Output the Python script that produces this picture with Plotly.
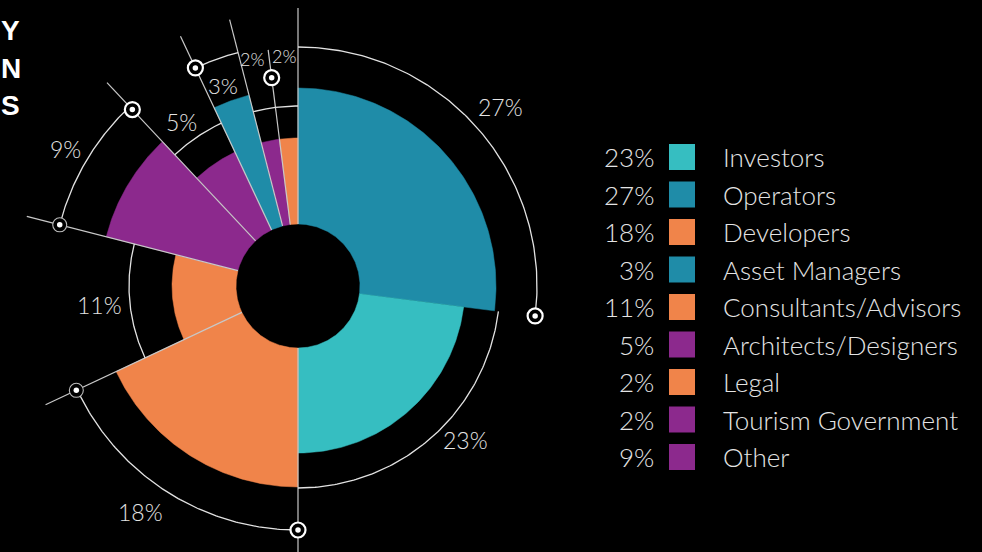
import numpy as np
import plotly.graph_objects as go

# ---------------- data ----------------
categories = ["Investors", "Operators", "Developers", "Asset Managers",
              "Consultants/Advisors", "Architects/Designers", "Legal",
              "Tourism Government", "Other"]
shares = [23, 27, 18, 3, 11, 5, 2, 2, 9]
# clockwise order of the slices, starting at 12 o'clock
chart_order = ["Operators", "Investors", "Developers", "Consultants/Advisors",
               "Other", "Architects/Designers", "Asset Managers",
               "Tourism Government", "Legal"]

# ---------------- styling (design, not data) ----------------
TEAL, BLUE, ORANGE, PURPLE = "#36BEC1", "#1F8CA8", "#F0844A", "#8C298D"
colors = {"Investors": TEAL, "Operators": BLUE, "Developers": ORANGE,
          "Asset Managers": BLUE, "Consultants/Advisors": ORANGE,
          "Architects/Designers": PURPLE, "Legal": ORANGE,
          "Tourism Government": PURPLE, "Other": PURPLE}
HOLE = 62
outer_r = {"Operators": 198, "Investors": 167, "Developers": 201,
           "Consultants/Advisors": 126, "Other": 198,
           "Architects/Designers": 148, "Asset Managers": 197,
           "Tourism Government": 148, "Legal": 148}
arc_r = {"Operators": 239, "Investors": 202, "Developers": 244,
         "Consultants/Advisors": 169, "Other": 246,
         "Architects/Designers": 180, "Asset Managers": 241,
         "Tourism Government": 180, "Legal": 180}
# radial line length at the END boundary of each slice (None = no line)
line_len = {"Operators": None, "Investors": 300, "Developers": 279,
            "Consultants/Advisors": 280, "Other": 279,
            "Architects/Designers": 276, "Asset Managers": 275,
            "Tourism Government": 238, "Legal": 278}
# marker radius at END boundary of each slice, and style (bold / thin)
marker_at = {"Operators": (239, True), "Investors": (244, True),
             "Developers": (245, False), "Consultants/Advisors": (246, False),
             "Other": (242, True), "Architects/Designers": (241, True),
             "Tourism Government": (210, True)}
# label radius, angle offset from mid-angle, font size
label_pos = {"Operators": (270, 0, 23), "Investors": (227, -6, 23),
             "Developers": (276, 2.5, 23), "Consultants/Advisors": (199, 0, 23),
             "Other": (270, 0, 23), "Architects/Designers": (201, -1.3, 23),
             "Asset Managers": (214, -0.8, 22), "Tourism Government": (232, -0.7, 18),
             "Legal": (230, 0, 18)}

FONT = "Lato"
WEIGHT = 300
LABEL_COL = "#E4E4E4"
LINE_COL = "#C8C8C8"


def pol(r, th):
    t = np.radians(th)
    return r * np.sin(t), r * np.cos(t)


share_of = dict(zip(categories, shares))
fig = go.Figure()

# angles from the data
angles = {}
start = 0.0
for c in chart_order:
    end = start + share_of[c] * 3.6
    angles[c] = (start, end)
    start = end

# wedges
for c in chart_order:
    a0, a1 = angles[c]
    th = np.linspace(a0, a1, 120)
    xo, yo = pol(outer_r[c], th)
    xi, yi = pol(HOLE, th[::-1])
    fig.add_trace(go.Scatter(
        x=np.concatenate([xo, xi, xo[:1]]), y=np.concatenate([yo, yi, yo[:1]]),
        mode="lines", fill="toself", fillcolor=colors[c],
        line=dict(color=colors[c], width=0.5), hoverinfo="skip", showlegend=False))

# radial lines
for c in chart_order:
    L = line_len[c]
    if L is None:
        continue
    a1 = angles[c][1]
    x0, y0 = pol(HOLE, a1)
    x1, y1 = pol(L, a1)
    fig.add_trace(go.Scatter(x=[x0, x1], y=[y0, y1], mode="lines",
                             line=dict(color=LINE_COL, width=1.2),
                             hoverinfo="skip", showlegend=False))

# annotation arcs
for c in chart_order:
    a0, a1 = angles[c]
    th = np.linspace(a0, a1, 120)
    x, y = pol(arc_r[c], th)
    fig.add_trace(go.Scatter(x=x, y=y, mode="lines",
                             line=dict(color="#E2E2E2", width=1.3),
                             hoverinfo="skip", showlegend=False))

# ring markers
for c, (r, bold) in marker_at.items():
    a1 = angles[c][1]
    x, y = pol(r, a1)
    fig.add_trace(go.Scatter(
        x=[x], y=[y], mode="markers",
        marker=dict(symbol="circle", size=15 if bold else 14, color="black",
                    line=dict(color="white" if bold else "#BBBBBB",
                              width=2.2 if bold else 1.1)),
        hoverinfo="skip", showlegend=False))
    fig.add_trace(go.Scatter(
        x=[x], y=[y], mode="markers",
        marker=dict(symbol="circle", size=5.5, color="white", line=dict(width=0)),
        hoverinfo="skip", showlegend=False))

# percentage labels around the chart
for c in chart_order:
    a0, a1 = angles[c]
    r, off, fs = label_pos[c]
    x, y = pol(r, (a0 + a1) / 2 + off)
    fig.add_annotation(x=x, y=y, text=f"{share_of[c]}%", showarrow=False,
                       xanchor="center", yanchor="middle",
                       font=dict(family=FONT, size=fs, color=LABEL_COL, weight=WEIGHT))

# custom legend
LEG_TOP, LEG_STEP = 129, 37.5
leg_y = [LEG_TOP - i * LEG_STEP for i in range(len(categories))]
fig.add_trace(go.Scatter(
    x=[384] * len(categories), y=leg_y, mode="markers",
    marker=dict(symbol="square", size=26, color=[colors[c] for c in categories],
                line=dict(width=0)),
    hoverinfo="skip", showlegend=False, cliponaxis=False))
for c, v, y in zip(categories, shares, leg_y):
    fig.add_annotation(x=358, y=y, text=f"{v}%", showarrow=False,
                       xanchor="right", yanchor="middle",
                       font=dict(family=FONT, size=26, color=LABEL_COL, weight=WEIGHT))
    fig.add_annotation(x=423, y=y, text=c, showarrow=False,
                       xanchor="left", yanchor="middle",
                       font=dict(family=FONT, size=26, color=LABEL_COL, weight=WEIGHT))

# title letters at the left edge
for letter, yy in zip(["Y", "N", "S"], [30, 68, 106]):
    fig.add_annotation(xref="paper", yref="paper", x=0, y=1 - yy / 552,
                       text=f"<b>{letter}</b>", showarrow=False,
                       xanchor="left", yanchor="middle", borderpad=0,
                       font=dict(family="Liberation Sans", size=28, color="white"))

fig.update_layout(
    width=982, height=552, margin=dict(l=0, r=0, t=0, b=0),
    paper_bgcolor="black", plot_bgcolor="black",
    xaxis=dict(range=[-298, 684], visible=False, fixedrange=True),
    yaxis=dict(range=[-266, 286], visible=False, fixedrange=True),
    showlegend=False,
)

fig.write_html("out.html")
